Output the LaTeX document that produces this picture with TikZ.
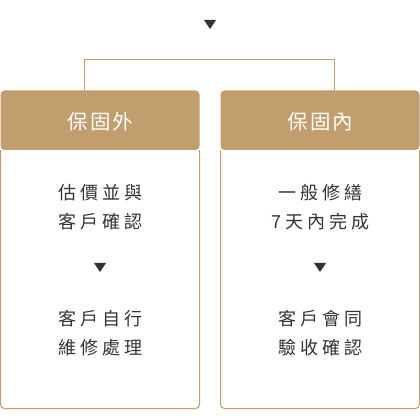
\documentclass[tikz,border=0pt]{standalone}
\usepackage{fontspec}
\newfontfamily\cjkbody[LetterSpace=23]{Noto Sans CJK TC}
\newfontfamily\cjkhead[LetterSpace=10]{Noto Sans CJK TC}
\definecolor{gold}{HTML}{C29D6E}
\definecolor{ink}{HTML}{333333}
\begin{document}
\begin{tikzpicture}[x=1pt,y=-1pt,
  head/.style={text=white,font=\cjkhead\fontsize{20.5}{22}\selectfont,inner sep=0pt},
  body/.style={text=ink,font=\cjkbody\fontsize{18}{29}\selectfont,align=center,inner sep=0pt},
  link/.style={draw=gold,line width=1pt},
  tri/.style={fill=ink,draw=none}]
\useasboundingbox (0,0) rectangle (420,419);
% boxes
\foreach \x in {0,220}{
  \fill[gold,rounded corners=4pt] (\x+0.5,150) -- (\x+0.5,90.5) -- (\x+199.5,90.5) -- (\x+199.5,150) -- cycle;
  \draw[gold,line width=1pt,rounded corners=4pt] (\x+0.5,150) |- (\x+199.5,408.5) -- (\x+199.5,150);
}
% headers
\node[head] (h1) at (100.5,121.5) {保固外\hspace{-0.1em}};
\node[head] (h2) at (320.5,121.5) {保固內\hspace{-0.1em}};
% top triangle
\coordinate (t0) at (210,24);
\fill[tri] (204,20) -- (216,20) -- (210,29) -- cycle;
% connector
\coordinate (c1) at (84.5,90);
\coordinate (c2) at (334.5,90);
\draw[link] (c1) -- (84.5,60) -- (334.5,60) -- (c2);
% body texts
\node[body] (a1) at (100.5,207) {估價並與\hspace{-0.23em}\\客戶確認\hspace{-0.23em}};
\node[body] (a2) at (100.5,333.5) {客戶自行\hspace{-0.23em}\\維修處理\hspace{-0.23em}};
\node[body] (b1) at (320.5,207) {一般修繕\hspace{-0.23em}\\7天內完成\hspace{-0.23em}};
\node[body] (b2) at (320.5,333.5) {客戶會同\hspace{-0.23em}\\驗收確認\hspace{-0.23em}};
% middle triangles
\fill[tri] (94,263) -- (106,263) -- (100,272) -- cycle;
\fill[tri] (314,263) -- (326,263) -- (320,272) -- cycle;
\end{tikzpicture}
\end{document}
